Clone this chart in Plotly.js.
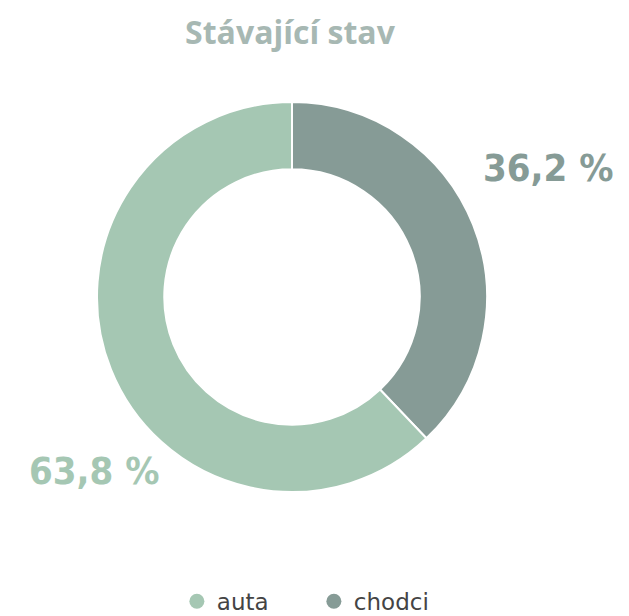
<!DOCTYPE html>
<html>
<head>
<meta charset="utf-8">
<script src="https://cdn.plot.ly/plotly-3.0.1.min.js"></script>
<style>html,body{margin:0;padding:0;background:#fff;}#chart{width:629px;height:616px;}</style>
</head>
<body>
<div id="chart"></div>
<script>
var categories = ["auta", "chodci"];
// slice sizes as drawn in the reference picture (chodci arc ≈ 136.6°)
var values = [62.1, 37.9];
var valueLabels = ["63,8 %", "36,2 %"];
var colors = ["#a5c7b3", "#869b96"];
var titleText = "Stávající stav";

var W = 629, H = 616;
var cx = 292, cy = 297, R = 195;

// pie drawn starting with "chodci" at 12 o'clock, clockwise
var order = [1, 0];
var traces = [{
  type: "pie",
  labels: order.map(function (i) { return categories[i]; }),
  values: order.map(function (i) { return values[i]; }),
  sort: false,
  direction: "clockwise",
  rotation: 0,
  hole: 0.655,
  textinfo: "none",
  hoverinfo: "label",
  marker: {colors: order.map(function (i) { return colors[i]; }), line: {color: "#ffffff", width: 2}},
  showlegend: false,
  domain: {x: [(cx - R) / W, (cx + R) / W], y: [(H - cy - R) / H, (H - cy + R) / H]}
}];
categories.forEach(function (c, i) {
  traces.push({
    type: "scatter", mode: "markers", x: [null], y: [null], name: c,
    marker: {symbol: "circle", size: 15, color: colors[i]},
    showlegend: true, hoverinfo: "skip"
  });
});

var layout = {
  width: W, height: H,
  margin: {l: 0, r: 0, t: 0, b: 0, autoexpand: false},
  paper_bgcolor: "#ffffff", plot_bgcolor: "#ffffff",
  title: {text: "<b>" + titleText + "</b>", x: 0.461, xanchor: "center", y: 1 - 33 / H, yanchor: "middle", yref: "container",
    font: {family: "Open Sans", size: 32, color: "#a7b8b3"}},
  xaxis: {visible: false}, yaxis: {visible: false},
  showlegend: true,
  legend: {orientation: "h", x: 0.499, xanchor: "center", y: -0.011, yanchor: "bottom",
    font: {family: "DejaVu Sans", size: 23, color: "#444444"}, itemsizing: "trace",
    entrywidth: 92, entrywidthmode: "pixels"},
  annotations: [
    {text: "<b>" + valueLabels[0] + "</b>", xref: "paper", yref: "paper", x: 94 / W, y: 1 - 471 / H,
      xanchor: "center", yanchor: "middle", showarrow: false,
      font: {family: "DejaVu Sans Condensed", size: 38, color: colors[0]}},
    {text: "<b>" + valueLabels[1] + "</b>", xref: "paper", yref: "paper", x: 548 / W, y: 1 - 168 / H,
      xanchor: "center", yanchor: "middle", showarrow: false,
      font: {family: "DejaVu Sans Condensed", size: 38, color: colors[1]}}
  ]
};

Plotly.newPlot("chart", traces, layout, {displayModeBar: false, responsive: false});
</script>
</body>
</html>
